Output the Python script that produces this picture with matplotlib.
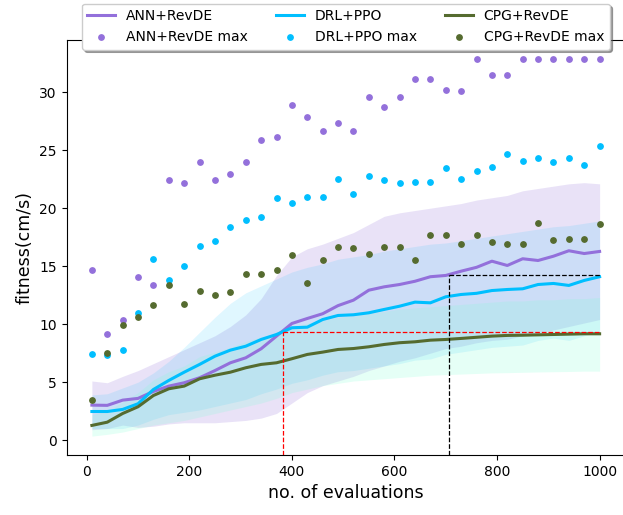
import matplotlib
matplotlib.use("Agg")
import matplotlib.pyplot as plt

evaluations = [10, 40, 70, 100, 130, 160, 190, 220, 250, 280, 310, 340, 370, 400, 430, 460, 490,
               520, 550, 580, 610, 640, 670, 700, 730, 760, 790, 820, 850, 880, 910, 940, 970, 1000]

ann_mean = [3.02, 3.0, 3.45, 3.6, 4.2, 4.66, 4.95, 5.38, 6.0, 6.67, 7.1, 7.88, 8.97, 10.06, 10.49, 10.9, 11.6,
            12.07, 12.93, 13.22, 13.42, 13.7, 14.09, 14.2, 14.57, 14.9, 15.43, 15.06, 15.64, 15.49, 15.86, 16.33, 16.09, 16.27]
ann_upper = [5.1, 4.95, 5.5, 6.0, 6.6, 7.2, 7.8, 8.4, 9.0, 9.8, 10.8, 12.2, 14.2, 15.8, 16.5, 16.9, 17.4,
             17.9, 18.6, 19.3, 19.6, 19.8, 20.0, 20.2, 20.4, 20.7, 20.9, 21.1, 21.5, 21.7, 21.9, 22.1, 22.2, 22.1]
ann_lower = [0.9, 1.0, 1.3, 1.1, 1.2, 1.4, 1.5, 1.5, 1.5, 1.6, 1.7, 1.9, 2.3, 3.2, 4.1, 4.7, 5.1,
             5.5, 6.0, 6.4, 6.8, 7.1, 7.5, 7.9, 8.1, 8.4, 8.6, 8.7, 9.0, 9.2, 9.5, 9.8, 10.1, 10.4]
ann_max = [14.63, 9.11, 10.37, 14.05, 13.36, 22.41, 22.13, 23.97, 22.41, 22.99, 23.97, 25.89, 26.18, 28.91, 27.84, 26.67, 27.36,
           26.67, 29.6, 28.7, 29.6, 31.12, 31.12, 30.17, 30.06, 32.9, 31.44, 31.44, 32.9, 32.9, 32.9, 32.9, 32.9, 32.9]

drl_mean = [2.47, 2.47, 2.65, 3.14, 4.37, 5.15, 5.86, 6.53, 7.24, 7.76, 8.1, 8.68, 9.11, 9.69, 9.74, 10.4, 10.75,
            10.81, 10.98, 11.27, 11.55, 11.9, 11.84, 12.36, 12.56, 12.66, 12.9, 12.99, 13.05, 13.42, 13.51, 13.34, 13.77, 14.09]
drl_upper = [3.9, 4.0, 4.5, 5.0, 5.8, 6.8, 8.0, 9.3, 10.6, 11.8, 12.7, 13.3, 13.9, 14.5, 14.9, 15.2, 15.6,
             15.8, 16.0, 16.3, 16.5, 16.7, 16.9, 17.0, 17.2, 17.4, 17.6, 17.8, 18.0, 18.2, 18.4, 18.5, 18.7, 18.9]
drl_lower = [1.0, 1.0, 1.0, 1.3, 1.8, 2.2, 2.4, 2.6, 2.9, 3.2, 3.5, 4.0, 4.4, 4.9, 5.2, 5.6, 5.9,
             6.0, 6.2, 6.4, 6.6, 6.9, 7.0, 7.4, 7.6, 7.8, 8.0, 8.1, 8.2, 8.6, 8.8, 8.6, 9.0, 9.4]
drl_max = [7.44, 7.3, 7.76, 10.97, 15.6, 13.77, 15.0, 16.75, 17.16, 18.34, 18.99, 19.2, 20.86, 20.46, 20.97, 20.97, 22.5,
           21.24, 22.79, 22.41, 22.21, 22.3, 22.3, 23.48, 22.5, 23.19, 23.56, 24.63, 24.05, 24.34, 23.94, 24.34, 23.76, 25.32]

cpg_mean = [1.27, 1.55, 2.3, 2.88, 3.85, 4.43, 4.66, 5.29, 5.6, 5.86, 6.24, 6.53, 6.67, 7.02, 7.39, 7.59, 7.82,
            7.9, 8.05, 8.25, 8.4, 8.48, 8.62, 8.68, 8.77, 8.87, 8.97, 9.03, 9.05, 9.08, 9.11, 9.14, 9.17, 9.17]
cpg_upper = [2.2, 2.5, 3.3, 4.1, 5.2, 5.9, 6.4, 7.2, 7.6, 8.0, 8.5, 8.9, 9.2, 9.7, 10.1, 10.3, 10.6,
             10.7, 10.9, 11.1, 11.3, 11.4, 11.5, 11.6, 11.7, 11.8, 11.9, 12.0, 12.0, 12.1, 12.1, 12.2, 12.2, 12.3]
cpg_lower = [0.35, 0.5, 0.7, 1.0, 1.3, 1.5, 1.7, 2.0, 2.3, 2.6, 2.9, 3.2, 3.6, 4.1, 4.4, 4.7, 4.9,
             5.1, 5.2, 5.3, 5.4, 5.5, 5.6, 5.65, 5.7, 5.75, 5.8, 5.82, 5.85, 5.88, 5.9, 5.92, 5.95, 5.95]
cpg_max = [3.47, 7.53, 9.97, 10.66, 11.61, 13.36, 11.72, 12.87, 12.5, 12.79, 14.34, 14.34, 14.63, 15.97, 13.56, 15.49, 16.67,
           16.58, 16.09, 16.67, 16.67, 15.49, 17.65, 17.73, 16.95, 17.73, 17.07, 16.95, 16.87, 18.71, 17.24, 17.36, 17.36, 18.62]

# reference markers (x, y)
red_ref = (382, 9.34)
black_ref = (707, 14.2)

W, H = 623, 515
fig = plt.figure(figsize=(W / 100, H / 100), dpi=100)
ax = fig.add_axes([66.5 / W, 60 / H, 558.5 / W, 415 / H])

ax.fill_between(evaluations, ann_lower, ann_upper, color='mediumpurple', alpha=0.2, linewidth=0)
ax.fill_between(evaluations, drl_lower, drl_upper, color='deepskyblue', alpha=0.12, linewidth=0)
ax.fill_between(evaluations, cpg_lower, cpg_upper, color='aquamarine', alpha=0.2, linewidth=0)

ax.plot(evaluations, ann_mean, color='mediumpurple', lw=2.2, label='ANN+RevDE')
ax.scatter(evaluations, ann_max, color='mediumpurple', s=15, label='ANN+RevDE max', zorder=3)
ax.plot(evaluations, drl_mean, color='deepskyblue', lw=2.2, label='DRL+PPO')
ax.scatter(evaluations, drl_max, color='deepskyblue', s=15, label='DRL+PPO max', zorder=3)
ax.plot(evaluations, cpg_mean, color='darkolivegreen', lw=2.2, label='CPG+RevDE')
ax.scatter(evaluations, cpg_max, color='darkolivegreen', s=15, label='CPG+RevDE max', zorder=3)

ymin, ymax = -1.28, 34.5
ax.set_xlim(-39.5, 1049.5)
ax.set_ylim(ymin, ymax)

ax.plot([red_ref[0], red_ref[0]], [ymin, red_ref[1]], color='red', ls='--', lw=0.9)
ax.plot([red_ref[0], evaluations[-1]], [red_ref[1], red_ref[1]], color='red', ls='--', lw=0.9)
ax.plot([black_ref[0], black_ref[0]], [ymin, black_ref[1]], color='black', ls='--', lw=0.9)
ax.plot([black_ref[0], evaluations[-1]], [black_ref[1], black_ref[1]], color='black', ls='--', lw=0.9)

ax.set_xticks([0, 200, 400, 600, 800, 1000])
ax.set_yticks([0, 5, 10, 15, 20, 25, 30])
ax.set_xlabel('no. of evaluations', fontsize=12.5)
ax.set_ylabel('fitness(cm/s)', fontsize=12.5)

ax.legend(loc='upper center', bbox_to_anchor=(0.5, 1 + 36.5 / 415), borderaxespad=0,
          ncol=3, shadow=True, fontsize=10)

fig.savefig('out.png', dpi=100)
